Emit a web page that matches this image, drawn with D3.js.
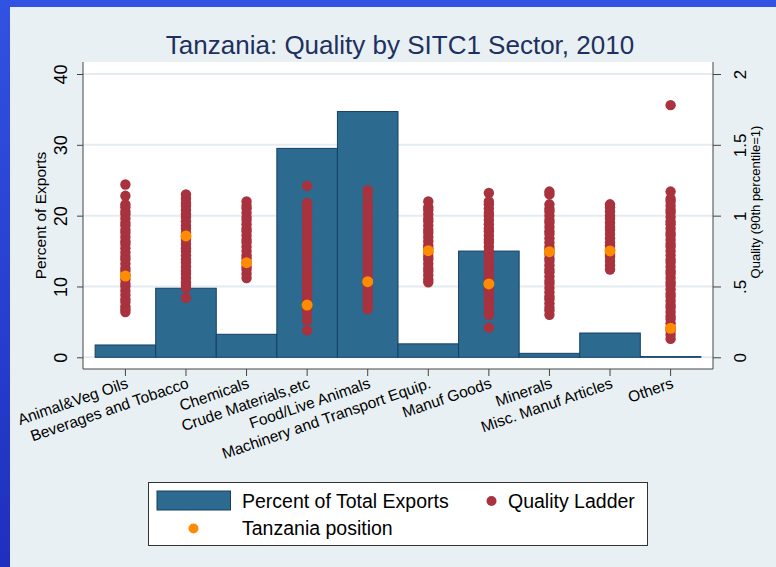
<!DOCTYPE html>
<html>
<head>
<meta charset="utf-8">
<script src="https://cdn.jsdelivr.net/npm/d3@7"></script>
<style>
  body { margin: 0; padding: 0; }
  svg { display: block; font-family: "Liberation Sans", Arial, sans-serif; }
</style>
</head>
<body>
<svg id="chart" width="776" height="567"></svg>
<script>
// ---------------- DATA ----------------
const categories = ["Animal&Veg Oils", "Beverages and Tobacco", "Chemicals", "Crude Materials,etc",
  "Food/Live Animals", "Machinery and Transport Equip.", "Manuf Goods", "Minerals",
  "Misc. Manuf Articles", "Others"];

const percentExports = [1.74, 9.75, 3.25, 29.5, 34.7, 1.9, 15.0, 0.56, 3.43, 0.1];

const tanzaniaPosition = [0.574, 0.857, 0.668, 0.369, 0.534, 0.753, 0.518, 0.746, 0.751, 0.205];

const ladderAnimalVeg = [1.22, 1.14, 1.08, 1.06, 1.03, 1.01, 0.98, 0.95, 0.93, 0.90, 0.88, 0.85, 0.82, 0.80, 0.77, 0.74, 0.71, 0.69, 0.66, 0.63, 0.61, 0.58, 0.55, 0.52, 0.50, 0.47, 0.44, 0.41, 0.39, 0.36, 0.34, 0.32];
const ladderBeverages = [1.15, 1.12, 1.09, 1.07, 1.04, 1.01, 0.99, 0.96, 0.93, 0.91, 0.88, 0.85, 0.83, 0.80, 0.77, 0.75, 0.72, 0.69, 0.67, 0.64, 0.61, 0.59, 0.56, 0.53, 0.51, 0.49, 0.42];
const ladderChemicals = [1.10, 1.07, 1.05, 1.02, 0.99, 0.97, 0.94, 0.91, 0.89, 0.86, 0.83, 0.81, 0.78, 0.75, 0.72, 0.70, 0.67, 0.64, 0.62, 0.59, 0.56];
const ladderCrude = [1.21, 1.09, 1.07, 1.04, 1.01, 0.99, 0.96, 0.93, 0.90, 0.88, 0.85, 0.82, 0.80, 0.77, 0.74, 0.72, 0.69, 0.66, 0.63, 0.61, 0.58, 0.55, 0.53, 0.50, 0.47, 0.45, 0.42, 0.39, 0.37, 0.34, 0.31, 0.26, 0.19];
const ladderFood = [1.18, 1.15, 1.10, 1.07, 1.05, 1.02, 0.99, 0.97, 0.94, 0.91, 0.89, 0.86, 0.83, 0.80, 0.78, 0.75, 0.72, 0.70, 0.67, 0.64, 0.62, 0.59, 0.56, 0.53, 0.51, 0.48, 0.45, 0.43, 0.40, 0.37, 0.34];
const ladderMachinery = [1.10, 1.06, 1.04, 1.01, 0.98, 0.96, 0.93, 0.90, 0.88, 0.85, 0.82, 0.79, 0.77, 0.74, 0.71, 0.69, 0.66, 0.63, 0.61, 0.58, 0.55, 0.53];
const ladderManuf = [1.16, 1.10, 1.08, 1.05, 1.02, 1.00, 0.97, 0.94, 0.91, 0.89, 0.86, 0.83, 0.81, 0.78, 0.75, 0.73, 0.70, 0.67, 0.64, 0.62, 0.59, 0.56, 0.54, 0.51, 0.48, 0.46, 0.43, 0.40, 0.38, 0.35, 0.32, 0.30, 0.21];
const ladderMinerals = [1.17, 1.15, 1.08, 1.05, 1.03, 1.00, 0.97, 0.95, 0.92, 0.89, 0.87, 0.84, 0.81, 0.78, 0.76, 0.73, 0.70, 0.68, 0.65, 0.62, 0.60, 0.57, 0.54, 0.52, 0.49, 0.46, 0.43, 0.41, 0.38, 0.35, 0.33, 0.30];
const ladderMisc = [1.08, 1.06, 1.03, 1.00, 0.98, 0.95, 0.92, 0.90, 0.87, 0.84, 0.81, 0.79, 0.76, 0.73, 0.71, 0.68, 0.65, 0.62];
const ladderOthers = [1.78, 1.17, 1.12, 1.10, 1.07, 1.04, 1.02, 0.99, 0.96, 0.94, 0.91, 0.88, 0.86, 0.83, 0.80, 0.78, 0.75, 0.72, 0.69, 0.67, 0.64, 0.61, 0.59, 0.56, 0.53, 0.51, 0.48, 0.45, 0.43, 0.40, 0.37, 0.35, 0.32, 0.29, 0.27, 0.24, 0.21, 0.19, 0.16, 0.13];

const qualityLadder = [ladderAnimalVeg, ladderBeverages, ladderChemicals, ladderCrude, ladderFood,
  ladderMachinery, ladderManuf, ladderMinerals, ladderMisc, ladderOthers];

const leftTicks = [0, 10, 20, 30, 40];
const rightTicks = [0, 0.5, 1, 1.5, 2];
const rightTickLabels = ["0", ".5", "1", "1.5", "2"];

// ---------------- CHART ----------------
const svg = d3.select("#chart");
const defs = svg.append("defs");
const grad = defs.append("linearGradient").attr("id", "bg").attr("x1", 0).attr("y1", 0).attr("x2", 0).attr("y2", 1);
grad.append("stop").attr("offset", "0%").attr("stop-color", "#3152e2");
grad.append("stop").attr("offset", "100%").attr("stop-color", "#1f2fbf");

svg.append("rect").attr("width", 776).attr("height", 567).attr("fill", "url(#bg)");
svg.append("rect").attr("x", 10).attr("y", 7).attr("width", 766).attr("height", 560).attr("fill", "#e8f0f3");

const plotL = 83, plotR = 713, plotT = 62, plotB = 369;
svg.append("rect").attr("x", plotL).attr("y", plotT).attr("width", plotR - plotL).attr("height", plotB - plotT).attr("fill", "#ffffff");

const x = d3.scaleBand().domain(categories).range([plotL, plotR]).paddingInner(0).paddingOuter(0.2);
const yL = d3.scaleLinear().domain([0, 40]).range([357.3, 74]);
const yR = d3.scaleLinear().domain([0, 2]).range([357.3, 74]);

// gridlines
svg.append("g").selectAll("line").data(leftTicks).join("line")
  .attr("x1", plotL).attr("x2", plotR)
  .attr("y1", d => yL(d)).attr("y2", d => yL(d))
  .attr("stroke", "#e3ecf1").attr("stroke-width", 2);

// bars
svg.append("g").selectAll("rect").data(categories).join("rect")
  .attr("x", d => x(d))
  .attr("y", (d, i) => yL(percentExports[i]))
  .attr("width", x.bandwidth())
  .attr("height", (d, i) => yL(0) - yL(percentExports[i]))
  .attr("fill", "#2c6a8f")
  .attr("stroke", "#173f66").attr("stroke-width", 1);

// quality ladder dots
const dotsG = svg.append("g");
categories.forEach((c, i) => {
  dotsG.selectAll(null).data(qualityLadder[i]).join("circle")
    .attr("cx", x(c) + x.bandwidth() / 2)
    .attr("cy", d => yR(d))
    .attr("r", 5.2)
    .attr("fill", "#a8323e");
});

// Tanzania position
svg.append("g").selectAll("circle").data(categories).join("circle")
  .attr("cx", d => x(d) + x.bandwidth() / 2)
  .attr("cy", (d, i) => yR(tanzaniaPosition[i]))
  .attr("r", 5.5)
  .attr("fill", "#ff8c00");

// left axis
const gL = svg.append("g").attr("transform", `translate(${plotL},0)`)
  .call(d3.axisLeft(yL).tickValues(leftTicks).tickSize(6).tickFormat(d3.format("d")));
gL.select(".domain").attr("d", `M0,${plotT}V${plotB}`).attr("stroke", "#444");
gL.selectAll(".tick line").attr("stroke", "#444");
gL.selectAll(".tick text")
  .attr("transform", "rotate(-90)")
  .attr("x", 0).attr("y", -16).attr("dy", 0)
  .attr("text-anchor", "middle")
  .attr("font-size", 18).attr("fill", "#000")
  .attr("font-family", "Liberation Sans, Arial, sans-serif");

// right axis
const gR = svg.append("g").attr("transform", `translate(${plotR},0)`)
  .call(d3.axisRight(yR).tickValues(rightTicks).tickSize(8).tickFormat((d, i) => rightTickLabels[i]));
gR.select(".domain").attr("d", `M0,${plotT}V${plotB}`).attr("stroke", "#444");
gR.selectAll(".tick line").attr("stroke", "#444");
gR.selectAll(".tick text")
  .attr("transform", "rotate(-90)")
  .attr("x", 0).attr("y", 33).attr("dy", 0)
  .attr("text-anchor", "middle")
  .attr("font-size", 17).attr("fill", "#000")
  .attr("font-family", "Liberation Sans, Arial, sans-serif");

// bottom axis
const gB = svg.append("g").attr("transform", `translate(0,${plotB})`)
  .call(d3.axisBottom(x).tickSize(7).tickSizeOuter(0));
gB.select(".domain").attr("d", `M${plotL},0H${plotR}`).attr("stroke", "#444");
gB.selectAll(".tick line").attr("stroke", "#444");
gB.selectAll(".tick text")
  .attr("transform", "translate(0,8) rotate(-19)")
  .attr("x", 0).attr("y", 0).attr("dy", "0.72em")
  .attr("text-anchor", "end")
  .attr("font-size", 15.5).attr("fill", "#000")
  .attr("font-family", "Liberation Sans, Arial, sans-serif");

// axis titles
svg.append("text").attr("transform", "translate(46,215.5) rotate(-90)")
  .attr("text-anchor", "middle").attr("font-size", 15.5).attr("fill", "#000")
  .text("Percent of Exports");
svg.append("text").attr("transform", "translate(760,202) rotate(-90)")
  .attr("text-anchor", "middle").attr("font-size", 13).attr("fill", "#000")
  .text("Quality (90th percentile=1)");

// title
svg.append("text").attr("x", 400).attr("y", 53.5).attr("text-anchor", "middle")
  .attr("font-size", 26).attr("fill", "#1e3060")
  .text("Tanzania: Quality by SITC1 Sector, 2010");

// legend
const lg = svg.append("g");
lg.append("rect").attr("x", 148.5).attr("y", 482.5).attr("width", 499).attr("height", 63)
  .attr("fill", "#fff").attr("stroke", "#333").attr("stroke-width", 1);
lg.append("rect").attr("x", 157).attr("y", 491).attr("width", 73.5).attr("height", 19)
  .attr("fill", "#2c6a8f").attr("stroke", "#173f66").attr("stroke-width", 1);
lg.append("text").attr("x", 242).attr("y", 507.5).attr("font-size", 19.5).attr("fill", "#000").text("Percent of Total Exports");
lg.append("circle").attr("cx", 491.5).attr("cy", 501).attr("r", 5).attr("fill", "#a8323e");
lg.append("text").attr("x", 508).attr("y", 507.5).attr("font-size", 19.5).attr("fill", "#000").text("Quality Ladder");
lg.append("circle").attr("cx", 193.5).attr("cy", 528.5).attr("r", 5).attr("fill", "#ff8c00");
lg.append("text").attr("x", 242).attr("y", 534.5).attr("font-size", 19.5).attr("fill", "#000").text("Tanzania position");
</script>
</body>
</html>
